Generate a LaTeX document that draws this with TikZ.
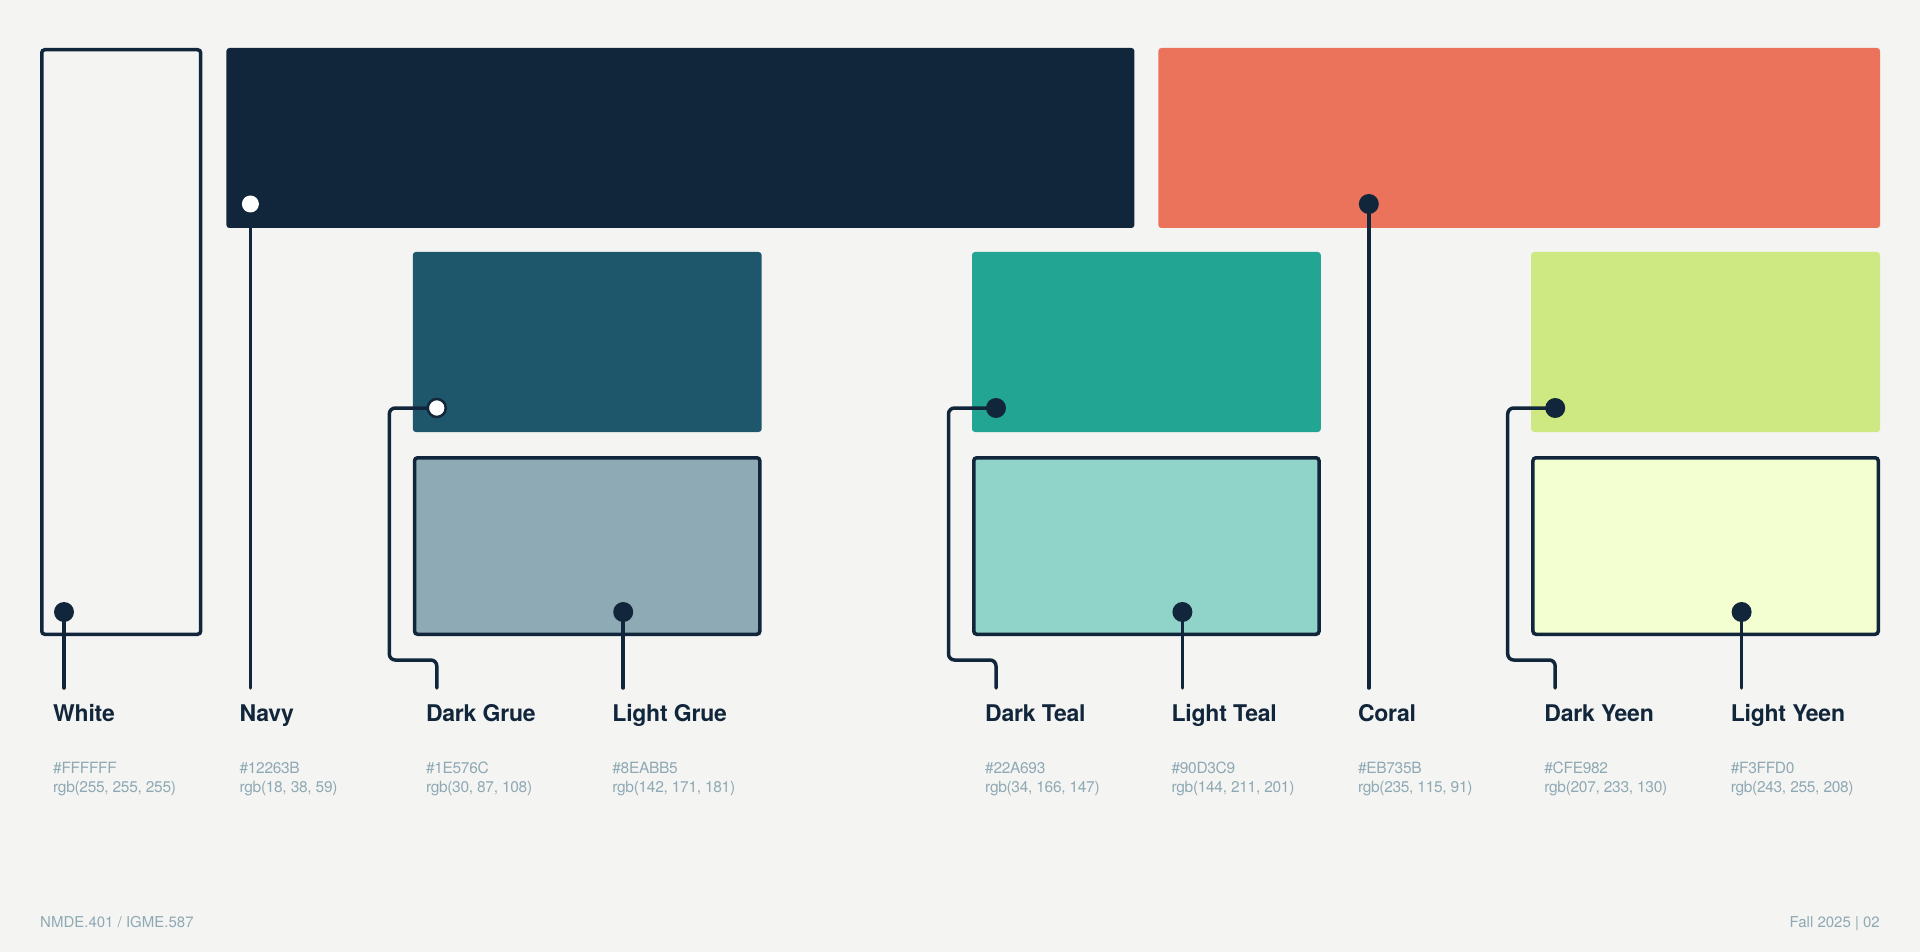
\documentclass[tikz,border=0pt]{standalone}
\usepackage{fontspec}
\setmainfont{TeX Gyre Heros}
\definecolor{bgc}{HTML}{F4F4F2}
\definecolor{cNavy}{HTML}{12263B}
\definecolor{cCoral}{HTML}{EB735B}
\definecolor{cDGrue}{HTML}{1E576C}
\definecolor{cLGrue}{HTML}{8EABB5}
\definecolor{cDTeal}{HTML}{22A693}
\definecolor{cLTeal}{HTML}{90D3C9}
\definecolor{cDYeen}{HTML}{CFE982}
\definecolor{cLYeen}{HTML}{F3FFD0}
\definecolor{cGray}{HTML}{8FA9B4}
\pgfdeclarelayer{front}
\pgfsetlayers{main,front}
\begin{document}
\begin{tikzpicture}[x=1pt,y=-1pt,
  swatch/.style={rectangle, inner sep=0pt, outer sep=0pt, rounded corners=3pt, anchor=north west, minimum height=180pt},
  outl/.style={rectangle, inner sep=0pt, outer sep=0pt, rounded corners=3pt, anchor=north west, draw=cNavy, line width=3.5pt, minimum height=176.5pt},
  dotn/.style={circle, inner sep=0pt, minimum size=20pt, fill=cNavy},
  dotw/.style={circle, inner sep=0pt, minimum size=17pt, fill=white},
  doth/.style={circle, inner sep=0pt, minimum size=18pt, fill=white, draw=cNavy, line width=2.5pt},
  conn/.style={draw=cNavy, line width=3.5pt, rounded corners=6pt, line cap=round},
  cname/.style={anchor=base west, inner sep=0pt, font=\bfseries\fontsize{23}{23}\selectfont\addfontfeatures{LetterSpace=-1}, text=cNavy},
  chex/.style={anchor=base west, inner sep=0pt, font=\fontsize{15.5}{19}\selectfont\addfontfeatures{LetterSpace=-2}, text=cGray},
  foot/.style={inner sep=0pt, font=\fontsize{15}{18}\selectfont, text=cGray}]
\fill[bgc] (0,0) rectangle (1920,952);
\useasboundingbox (0,0) rectangle (1920,952);
% swatches
\node[outl, minimum width=158.9pt, minimum height=584.5pt] (bWhite) at (41.75,49.75) {};
\node[swatch, fill=cNavy, minimum width=908pt] (bNavy) at (226.4,48) {};
\node[swatch, fill=cCoral, minimum width=721.6pt] (bCoral) at (1158.4,48) {};
\node[swatch, fill=cDGrue, minimum width=348.8pt] (bDGrue) at (412.8,252) {};
\node[swatch, fill=cDTeal, minimum width=348.8pt] (bDTeal) at (972,252) {};
\node[swatch, fill=cDYeen, minimum width=348.8pt] (bDYeen) at (1531.2,252) {};
\node[outl, fill=cLGrue, minimum width=345.3pt] (bLGrue) at (414.55,457.75) {};
\node[outl, fill=cLTeal, minimum width=345.3pt] (bLTeal) at (973.75,457.75) {};
\node[outl, fill=cLYeen, minimum width=345.3pt] (bLYeen) at (1532.95,457.75) {};
% dots
\begin{pgfonlayer}{front}
\node[dotn] (dW) at (64,612) {};
\node[dotw] (dN) at (250.4,204) {};
\node[doth] (dDG) at (436.8,408) {};
\node[dotn] (dLG) at (623.2,612) {};
\node[dotn] (dDT) at (996,408) {};
\node[dotn] (dLT) at (1182.4,612) {};
\node[dotn] (dC) at (1368.8,204) {};
\node[dotn] (dDY) at (1555.2,408) {};
\node[dotn] (dLY) at (1741.6,612) {};
\end{pgfonlayer}
% connector ends
\coordinate (eW) at (64,688);
\coordinate (eN) at (250.4,688);
\coordinate (eDG) at (436.8,688);
\coordinate (eLG) at (623.2,688);
\coordinate (eDT) at (996,688);
\coordinate (eLT) at (1182.4,688);
\coordinate (eC) at (1368.8,688);
\coordinate (eDY) at (1555.2,688);
\coordinate (eLY) at (1741.6,688);
\coordinate (jDG) at (389.3,408);
\coordinate (kDG) at (436.8,660);
\coordinate (jDT) at (948.5,408);
\coordinate (kDT) at (996,660);
\coordinate (jDY) at (1507.7,408);
\coordinate (kDY) at (1555.2,660);
% connectors
\draw[conn] (dW.center) -- (eW);
\draw[conn] (bNavy.south -| dN) -- (eN);
\draw[conn] (dDG.center) -- (jDG) |- (kDG) -- (eDG);
\draw[conn] (dLG.center) -- (eLG);
\draw[conn] (dDT.center) -- (jDT) |- (kDT) -- (eDT);
\draw[conn] (dLT.center) -- (eLT);
\draw[conn] (dC.center) -- (eC);
\draw[conn] (dDY.center) -- (jDY) |- (kDY) -- (eDY);
\draw[conn] (dLY.center) -- (eLY);
% labels
\node[cname] (nW) at (53,721) {White};
\node[chex] (hW) at (53,773) {\#FFFFFF};
\node[chex] (rW) at (53,792) {rgb(255, 255, 255)};
\node[cname] (nN) at (239.4,721) {Navy};
\node[chex] (hN) at (239.4,773) {\#12263B};
\node[chex] (rN) at (239.4,792) {rgb(18, 38, 59)};
\node[cname] (nDG) at (425.8,721) {Dark Grue};
\node[chex] (hDG) at (425.8,773) {\#1E576C};
\node[chex] (rDG) at (425.8,792) {rgb(30, 87, 108)};
\node[cname] (nLG) at (612.2,721) {Light Grue};
\node[chex] (hLG) at (612.2,773) {\#8EABB5};
\node[chex] (rLG) at (612.2,792) {rgb(142, 171, 181)};
\node[cname] (nDT) at (985,721) {Dark Teal};
\node[chex] (hDT) at (985,773) {\#22A693};
\node[chex] (rDT) at (985,792) {rgb(34, 166, 147)};
\node[cname] (nLT) at (1171.4,721) {Light Teal};
\node[chex] (hLT) at (1171.4,773) {\#90D3C9};
\node[chex] (rLT) at (1171.4,792) {rgb(144, 211, 201)};
\node[cname] (nC) at (1357.8,721) {Coral};
\node[chex] (hC) at (1357.8,773) {\#EB735B};
\node[chex] (rC) at (1357.8,792) {rgb(235, 115, 91)};
\node[cname] (nDY) at (1544.2,721) {Dark Yeen};
\node[chex] (hDY) at (1544.2,773) {\#CFE982};
\node[chex] (rDY) at (1544.2,792) {rgb(207, 233, 130)};
\node[cname] (nLY) at (1730.6,721) {Light Yeen};
\node[chex] (hLY) at (1730.6,773) {\#F3FFD0};
\node[chex] (rLY) at (1730.6,792) {rgb(243, 255, 208)};
% footer
\node[foot, anchor=base west] (fL) at (40,927) {NMDE.401 / IGME.587};
\node[foot, anchor=base east] (fR) at (1880,927) {Fall 2025 | 02};
\end{tikzpicture}
\end{document}
